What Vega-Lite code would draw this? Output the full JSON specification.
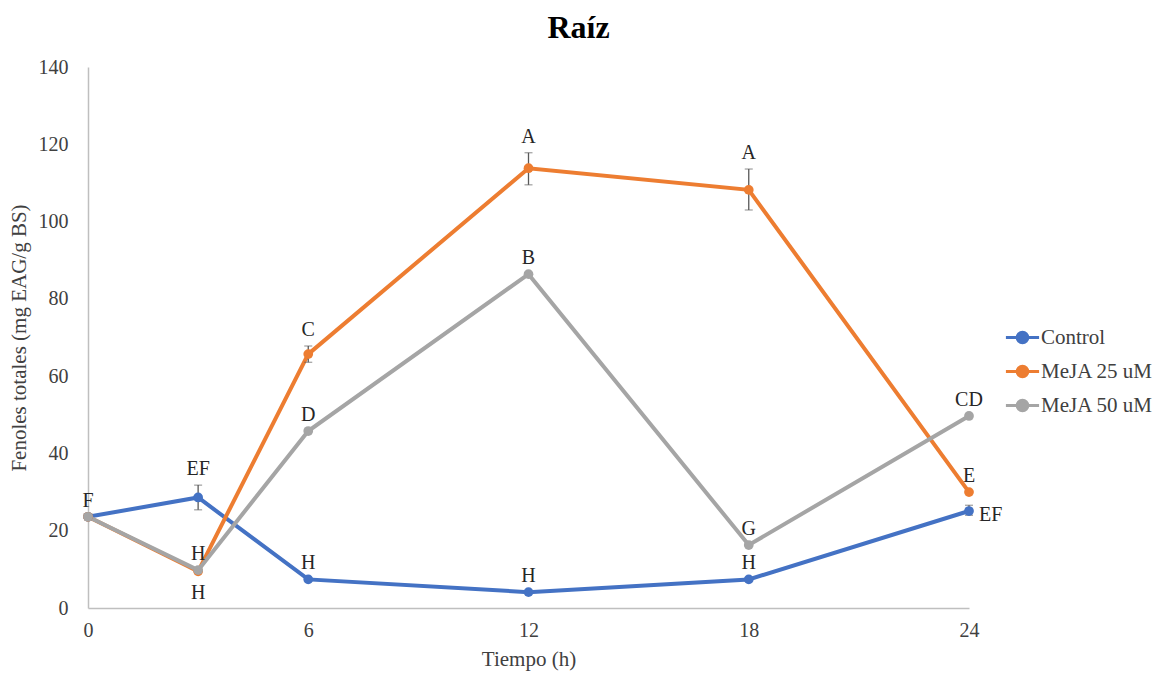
{
  "$schema": "https://vega.github.io/schema/vega-lite/v6.json",
  "width": 881,
  "height": 541,
  "autosize": {"type": "none"},
  "padding": {"left": 88, "top": 67, "right": 193, "bottom": 67},
  "background": "white",
  "title": {"text": "Raíz", "font": "Liberation Serif", "fontSize": 32, "fontWeight": "bold", "color": "#000000", "anchor": "middle", "dx": 50, "offset": 12},
  "config": {
    "font": "Liberation Serif",
    "view": {"stroke": null},
    "axis": {"grid": false, "ticks": false, "domainColor": "#bfbfbf", "domainWidth": 1.5, "labelFont": "Liberation Serif", "labelFontSize": 20, "labelColor": "#404040", "titleFont": "Liberation Serif", "titleFontSize": 21, "titleFontWeight": "normal", "titleColor": "#404040"}
  },
  "data": {"values": [
    {"series": "Control", "t": 0, "v": 23.6, "lo": 23.6, "hi": 23.6, "above": "F", "below": "", "right": ""},
    {"series": "Control", "t": 3, "v": 28.6, "lo": 25.4, "hi": 31.8, "above": "EF", "below": "", "right": ""},
    {"series": "Control", "t": 6, "v": 7.4, "lo": 7.4, "hi": 7.4, "above": "H", "below": "", "right": ""},
    {"series": "Control", "t": 12, "v": 4.1, "lo": 4.1, "hi": 4.1, "above": "H", "below": "", "right": ""},
    {"series": "Control", "t": 18, "v": 7.4, "lo": 7.4, "hi": 7.4, "above": "H", "below": "", "right": ""},
    {"series": "Control", "t": 24, "v": 25.1, "lo": 24.0, "hi": 26.6, "above": "", "below": "", "right": "EF"},
    {"series": "MeJA 25 uM", "t": 0, "v": 23.6, "lo": 23.6, "hi": 23.6, "above": "", "below": "", "right": ""},
    {"series": "MeJA 25 uM", "t": 3, "v": 9.5, "lo": 9.5, "hi": 9.5, "above": "", "below": "H", "right": ""},
    {"series": "MeJA 25 uM", "t": 6, "v": 65.7, "lo": 63.6, "hi": 67.8, "above": "C", "below": "", "right": ""},
    {"series": "MeJA 25 uM", "t": 12, "v": 113.8, "lo": 109.5, "hi": 117.8, "above": "A", "below": "", "right": ""},
    {"series": "MeJA 25 uM", "t": 18, "v": 108.2, "lo": 103.0, "hi": 113.6, "above": "A", "below": "", "right": ""},
    {"series": "MeJA 25 uM", "t": 24, "v": 30.0, "lo": 30.0, "hi": 30.0, "above": "E", "below": "", "right": ""},
    {"series": "MeJA 50 uM", "t": 0, "v": 23.6, "lo": 23.6, "hi": 23.6, "above": "", "below": "", "right": ""},
    {"series": "MeJA 50 uM", "t": 3, "v": 9.8, "lo": 9.8, "hi": 9.8, "above": "H", "below": "", "right": ""},
    {"series": "MeJA 50 uM", "t": 6, "v": 45.8, "lo": 45.8, "hi": 45.8, "above": "D", "below": "", "right": ""},
    {"series": "MeJA 50 uM", "t": 12, "v": 86.4, "lo": 86.4, "hi": 86.4, "above": "B", "below": "", "right": ""},
    {"series": "MeJA 50 uM", "t": 18, "v": 16.3, "lo": 16.3, "hi": 16.3, "above": "G", "below": "", "right": ""},
    {"series": "MeJA 50 uM", "t": 24, "v": 49.7, "lo": 49.7, "hi": 49.7, "above": "CD", "below": "", "right": ""}
  ]},
  "encoding": {
    "x": {"field": "t", "type": "quantitative", "scale": {"domain": [0, 24], "nice": false},
      "axis": {"values": [0, 6, 12, 18, 24], "title": "Tiempo (h)", "labelPadding": 12, "titlePadding": 8, "labelFlush": false}}
  },
  "layer": [
    {
      "mark": {"type": "line", "strokeWidth": 4},
      "encoding": {
        "y": {"field": "v", "type": "quantitative", "title": "Fenoles totales (mg EAG/g BS)", "scale": {"domain": [0, 140], "nice": false},
          "axis": {"values": [0, 20, 40, 60, 80, 100, 120, 140], "labelPadding": 20, "titlePadding": 9}},
        "color": {"field": "series", "type": "nominal",
          "scale": {"domain": ["Control", "MeJA 25 uM", "MeJA 50 uM"], "range": ["#4472C4", "#ED7D31", "#A5A5A5"]},
          "legend": {"title": null, "orient": "none", "legendX": 916, "legendY": 252, "labelFont": "Liberation Serif", "labelFontSize": 21, "labelColor": "#404040", "labelOffset": 0, "rowPadding": 4,
            "symbolType": "M-1,0H1M-0.32,0A0.32,0.32,0,1,0,0.32,0A0.32,0.32,0,1,0,-0.32,0Z", "symbolSize": 1100, "symbolStrokeWidth": 3,
            "encode": {"symbols": {"update": {"fill": {"scale": "color", "field": "value"}, "stroke": {"scale": "color", "field": "value"}}}}}},
        "order": {"field": "t", "type": "quantitative"},
        "detail": {"field": "series"}
      }
    },
    {
      "transform": [{"filter": "datum.hi > datum.lo"}],
      "mark": {"type": "errorbar", "ticks": {"size": 8, "color": "#595959", "strokeWidth": 1.3}, "rule": {"color": "#595959", "strokeWidth": 1.3}},
      "encoding": {
        "y": {"field": "lo", "type": "quantitative", "title": "Fenoles totales (mg EAG/g BS)"},
        "y2": {"field": "hi"}
      }
    },
    {
      "mark": {"type": "point", "filled": true, "opacity": 1, "size": 95},
      "encoding": {
        "y": {"field": "v", "type": "quantitative", "title": "Fenoles totales (mg EAG/g BS)"},
        "color": {"field": "series", "type": "nominal", "legend": null}
      }
    },
    {
      "transform": [{"filter": "datum.above != ''"}],
      "mark": {"type": "text", "font": "Liberation Serif", "fontSize": 20, "color": "#262626", "dy": -16, "baseline": "middle"},
      "encoding": {
        "y": {"field": "hi", "type": "quantitative", "title": "Fenoles totales (mg EAG/g BS)"},
        "text": {"field": "above"}
      }
    },
    {
      "transform": [{"filter": "datum.below != ''"}],
      "mark": {"type": "text", "font": "Liberation Serif", "fontSize": 20, "color": "#262626", "dy": 22, "baseline": "middle"},
      "encoding": {
        "y": {"field": "lo", "type": "quantitative", "title": "Fenoles totales (mg EAG/g BS)"},
        "text": {"field": "below"}
      }
    },
    {
      "transform": [{"filter": "datum.right != ''"}],
      "mark": {"type": "text", "font": "Liberation Serif", "fontSize": 20, "color": "#262626", "dx": 10, "dy": 4, "align": "left", "baseline": "middle"},
      "encoding": {
        "y": {"field": "v", "type": "quantitative", "title": "Fenoles totales (mg EAG/g BS)"},
        "text": {"field": "right"}
      }
    }
  ]
}
